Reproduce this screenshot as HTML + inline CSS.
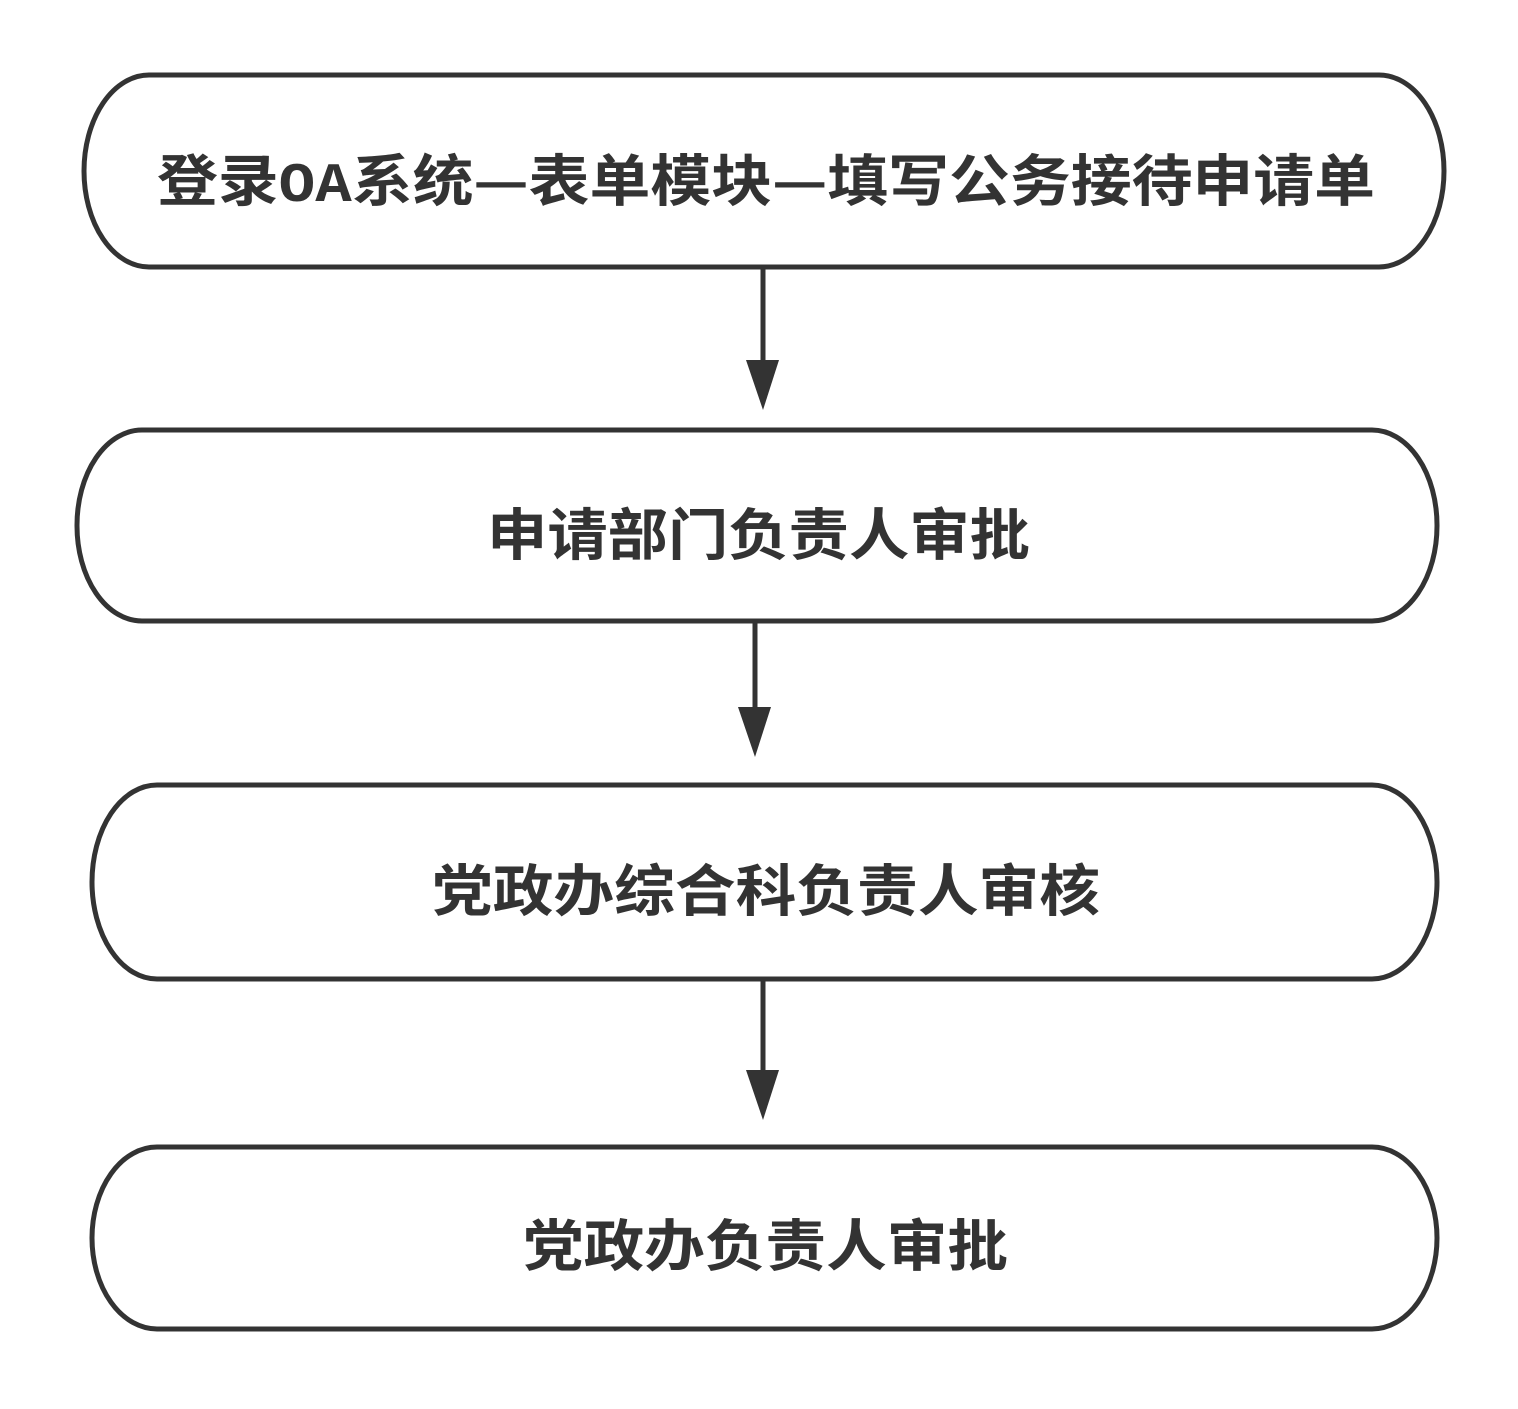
<!DOCTYPE html>
<html><head><meta charset="utf-8"><style>html,body{margin:0;padding:0;background:#fff}</style></head>
<body>
<svg width="1518" height="1404" viewBox="0 0 1518 1404" xmlns="http://www.w3.org/2000/svg">
<g fill="none" stroke="#333" stroke-width="5">
<rect x="84" y="75" width="1360" height="192" rx="65" ry="96"/>
<rect x="77" y="430" width="1360" height="191" rx="65" ry="95"/>
<rect x="92" y="785" width="1345" height="194" rx="65" ry="97"/>
<rect x="92" y="1147" width="1345" height="182" rx="65" ry="91"/>
<line x1="763" y1="268" x2="763" y2="365"/>
<line x1="755" y1="622" x2="755" y2="712"/>
<line x1="763" y1="980" x2="763" y2="1075"/>
</g>
<g fill="#333">
<polygon points="746,360 779,360 763,410"/>
<polygon points="738,707 771,707 755,757"/>
<polygon points="746,1070 779,1070 763,1120"/>
</g>
<g font-family="'Noto Sans CJK SC',sans-serif" font-weight="bold" font-size="56" fill="#333">
<text x="157" y="201" textLength="1218" lengthAdjust="spacingAndGlyphs">登录<tspan font-family="'Liberation Mono',monospace">OA</tspan>系统—表单模块—填写公务接待申请单</text>
<text x="487" y="555" textLength="543" lengthAdjust="spacingAndGlyphs">申请部门负责人审批</text>
<text x="432" y="911" textLength="668" lengthAdjust="spacingAndGlyphs">党政办综合科负责人审核</text>
<text x="523" y="1266" textLength="485" lengthAdjust="spacingAndGlyphs">党政办负责人审批</text>
</g>
</svg>
</body></html>
